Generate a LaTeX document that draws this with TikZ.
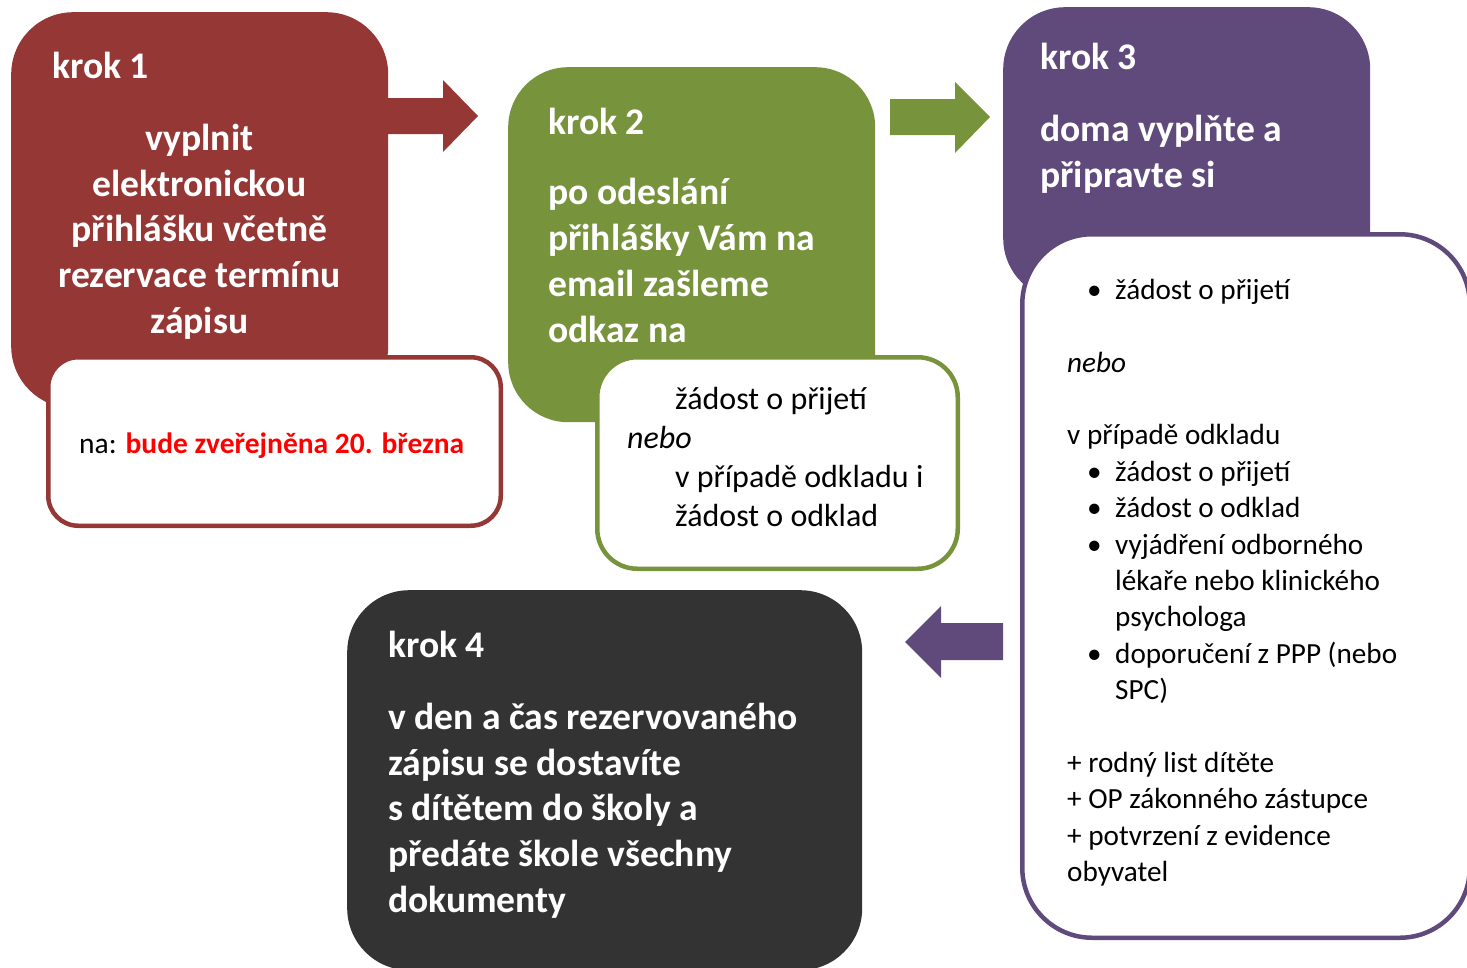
\documentclass[tikz,border=0pt]{standalone}
\usepackage{fontspec}
\setmainfont{Carlito}
\definecolor{kred}{HTML}{953735}
\definecolor{kgreen}{HTML}{77933C}
\definecolor{kpurple}{HTML}{604A7B}
\definecolor{kdark}{HTML}{333333}
\definecolor{kbright}{HTML}{FF0000}
\newcommand\bulitem{\hspace*{20pt}\makebox[28pt][l]{•}}
\newcommand\bulind{\hspace*{48pt}}
\begin{document}
\begin{tikzpicture}[x=1pt,y=-1pt,
  panel/.style={rectangle, anchor=north west, inner sep=0pt, draw=none},
  card/.style={rectangle, anchor=north west, inner sep=0pt, fill=white, line width=4.5pt},
  ttl/.style={anchor=base west, inner sep=0pt, text=white, font=\bfseries\fontsize{37.6}{45.8}\selectfont},
  body/.style={anchor=north west, inner sep=0pt, text=white, align=left, font=\bfseries\fontsize{37.6}{45.8}\selectfont},
  note/.style={anchor=north west, inner sep=0pt, text=black, align=left}
]
\useasboundingbox (0,0) rectangle (1467,967);

% step panels
\node[panel, fill=kred, minimum width=377pt, minimum height=396pt, rounded corners=62pt] (p1) at (11,12) {};
\node[panel, fill=kgreen, minimum width=367pt, minimum height=355pt, rounded corners=60pt] (p2) at (508,67) {};
\node[panel, fill=kpurple, minimum width=367pt, minimum height=293pt, rounded corners=62pt] (p3) at (1003,7) {};
\node[panel, fill=kdark, minimum width=515pt, minimum height=380pt, rounded corners=62pt] (p4) at (347,590) {};

% white cards
\node[card, draw=kred, minimum width=452.5pt, minimum height=168.5pt, rounded corners=30pt] (c1) at (46,355) {};
\node[card, draw=kgreen, minimum width=360.5pt, minimum height=211.5pt, rounded corners=40pt] (c2) at (595,355) {};
\node[card, draw=kpurple, minimum width=447.5pt, minimum height=703.5pt, rounded corners=70pt] (c3) at (1020,232) {};

% block arrows
\fill[kred] (388,98) -- (443,98) -- (443,80) -- (478,116) -- (443,152) -- (443,134) -- (388,134) -- cycle;
\fill[kgreen] (890,99) -- (955,99) -- (955,82) -- (990,117) -- (955,153) -- (955,135) -- (890,135) -- cycle;
\fill[kpurple] (1003,623) -- (941,623) -- (941,606) -- (905,642) -- (941,678) -- (941,660) -- (1003,660) -- cycle;

% step texts
\node[ttl] (t1) at (52,78) {krok 1};
\node[body, align=center, anchor=north] (b1) at (199.5,110) {\rule{0pt}{40pt}vyplnit\\elektronickou\\přihlášku včetně\\rezervace termínu\\zápisu};
\node[ttl] (t2) at (548,134) {krok 2};
\node[body] (b2) at (548,164.5) {\rule{0pt}{40pt}po odeslání\\přihlášky Vám na\\email zašleme\\odkaz na};
\node[ttl] (t3) at (1040,69) {krok 3};
\node[body] (b3) at (1040,101) {\rule{0pt}{40pt}doma vyplňte a\\připravte si};
\node[ttl] (t4) at (388,657) {krok 4};
\node[body] (b4) at (388,689) {\rule{0pt}{40pt}v den a čas rezervovaného\\zápisu se dostavíte\\s dítětem do školy a\\předáte škole všechny\\dokumenty};

% card texts
\node[anchor=base west, inner sep=0pt, font=\fontsize{29.5}{36}\selectfont] (n1) at (79,453) {na: \textcolor{kbright}{\bfseries bude zveřejněna 20. března}};
\node[note, font=\fontsize{32}{39}\selectfont] (n2) at (627,369.5) {\rule{0pt}{40pt}\bulind žádost o přijetí\\\textit{nebo}\\\bulind v případě odkladu i\\\bulind žádost o odklad};
\node[note, font=\fontsize{29.2}{36.4}\selectfont] (n3) at (1067,259) {\rule{0pt}{40pt}\bulitem žádost o přijetí\\[36.4pt]
\textit{nebo}\\[36.4pt]
v případě odkladu\\
\bulitem žádost o přijetí\\
\bulitem žádost o odklad\\
\bulitem vyjádření odborného\\
\bulind lékaře nebo klinického\\
\bulind psychologa\\
\bulitem doporučení z PPP (nebo\\
\bulind SPC)\\[36.4pt]
+ rodný list dítěte\\
+ OP zákonného zástupce\\
+ potvrzení z evidence\\
obyvatel};
\end{tikzpicture}
\end{document}
